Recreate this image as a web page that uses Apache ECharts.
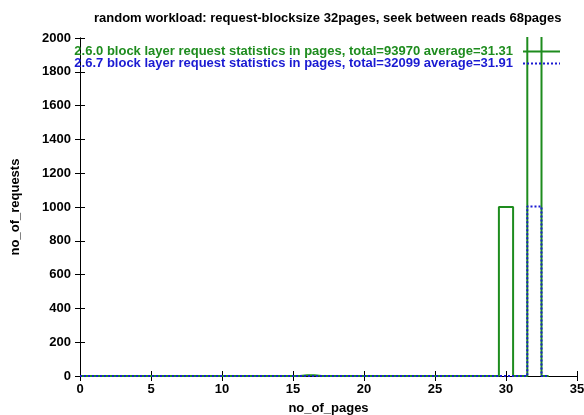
<!DOCTYPE html>
<html><head><meta charset="utf-8">
<script src="https://cdn.jsdelivr.net/npm/echarts@6/dist/echarts.min.js"></script>
<style>html,body{margin:0;padding:0;background:#fff}#c{width:584px;height:415px}</style>
</head><body><div id="c"></div>
<script>
const titleText = 'random workload: request-blocksize 32pages, seek between reads 68pages';
const pages = [0,1,2,3,4,5,6,7,8,9,10,11,12,13,14,15,16,17,18,19,20,21,22,23,24,25,26,27,28,29,30,31,32,33];
const name260 = '2.6.0 block layer request statistics in pages, total=93970 average=31.31';
const name267 = '2.6.7 block layer request statistics in pages, total=32099 average=31.91';
const req260 = [0,0,0,0,0,0,0,0,0,0,0,0,0,0,0,0,5,0,0,0,0,0,0,0,0,0,0,0,0,0,1000,0,2937,0];
const req267 = [0,0,0,0,0,0,0,0,0,0,0,0,0,0,0,0,0,0,0,0,0,0,0,0,0,0,0,0,0,0,0,0,1003,0];
const xTicks = [0,5,10,15,20,25,30,35];
const yTicks = [0,200,400,600,800,1000,1200,1400,1600,1800,2000];

const F = 'Liberation Sans, Arial, sans-serif';
const green = '#1e8c1e', blue = '#1a1ad2';
const chart = echarts.init(document.getElementById('c'), null, {renderer:'canvas'});
const axisCommon = {
  axisLine:{show:true, lineStyle:{color:'#000', width:1}},
  axisTick:{show:true, inside:true, length:5, lineStyle:{color:'#000'}},
  splitLine:{show:false}
};
const plain = v => String(v);
chart.setOption({
  animation:false,
  title:{text:titleText, left:89, top:7, textStyle:{fontFamily:F, fontSize:13, fontWeight:'bold', color:'#000'}},
  grid:{left:80, right:7, top:38, bottom:39, containLabel:false, outerBoundsMode:'none'},
  legend:{
    orient:'vertical', right:18, top:40, align:'right', itemWidth:37, itemHeight:12, itemGap:-1,
    itemStyle:{opacity:0},
    textStyle:{fontFamily:F, fontSize:13, fontWeight:'bold', lineHeight:12, padding:[0,5,0,0]},
    data:[{name:name260, textStyle:{color:green}},{name:name267, textStyle:{color:blue}}]
  },
  xAxis:[
    Object.assign({type:'value', min:xTicks[0], max:xTicks[xTicks.length-1], interval:5, position:'bottom',
      name:'no_of_pages', nameLocation:'middle', nameGap:26,
      nameTextStyle:{fontFamily:F, fontSize:13, fontWeight:'bold', color:'#000'},
      axisLabel:{fontFamily:F, fontSize:13, fontWeight:'bold', color:'#000', margin:7, formatter:plain}}, axisCommon),
    Object.assign({type:'value', min:xTicks[0], max:xTicks[xTicks.length-1], interval:5, position:'top',
      axisLabel:{show:false}}, axisCommon)
  ],
  yAxis:[
    Object.assign({type:'value', min:yTicks[0], max:yTicks[yTicks.length-1], interval:200, position:'left',
      name:'no_of_requests', nameLocation:'middle', nameGap:58, nameRotate:90,
      nameTextStyle:{fontFamily:F, fontSize:13, fontWeight:'bold', color:'#000'},
      axisLabel:{fontFamily:F, fontSize:13, fontWeight:'bold', color:'#000', margin:9, formatter:plain}}, axisCommon),
    Object.assign({type:'value', min:yTicks[0], max:yTicks[yTicks.length-1], interval:200, position:'right',
      axisLabel:{show:false}}, axisCommon)
  ],
  series:[
    {name:name260, type:'line', step:'middle', showSymbol:false, symbol:'none', clip:true,
      data:pages.map((p,i)=>[p, req260[i]]), lineStyle:{color:green, width:2}, itemStyle:{color:green}},
    {name:name267, type:'line', step:'middle', showSymbol:false, symbol:'none', clip:true,
      data:pages.map((p,i)=>[p, req267[i]]), lineStyle:{color:blue, width:2, type:[2,2]}, itemStyle:{color:blue}}
  ]
});
</script></body></html>
